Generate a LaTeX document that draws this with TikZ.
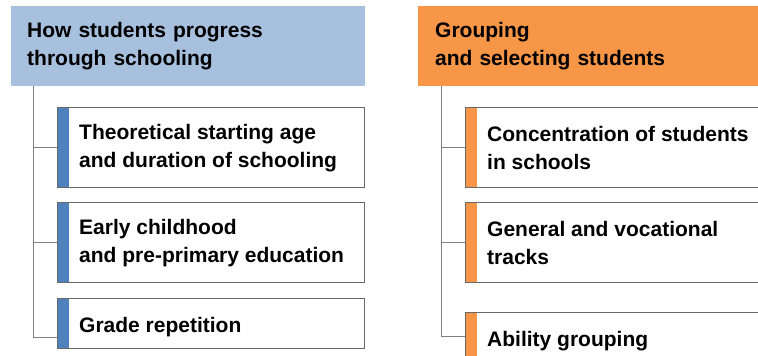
\documentclass[tikz,border=0pt]{standalone}
\usepackage{fontspec}
\setmainfont{Liberation Sans}
\usetikzlibrary{positioning}
\definecolor{headblue}{RGB}{167,192,222}
\definecolor{stripeblue}{RGB}{79,129,189}
\definecolor{headorange}{RGB}{247,150,70}
\definecolor{boxgray}{RGB}{105,105,105}
\definecolor{treegray}{RGB}{128,128,128}

\begin{document}
\begin{tikzpicture}[
    x=1pt, y=1pt,
    node distance=14pt,
    txt/.style={font=\fontsize{21}{27.5}\selectfont\bfseries, align=left},
    header/.style={txt, anchor=north west, fill=#1, minimum height=80pt,
                   text width=322pt, inner xsep=16pt, inner ysep=0pt},
    item/.style={draw=boxgray, line width=1pt, minimum width=307pt,
                 minimum height=80pt, inner sep=0pt,
                 path picture={\fill[#1] (path picture bounding box.south west)
                   rectangle ([xshift=11.5pt]path picture bounding box.north west);}},
    itemtext/.style={txt, anchor=west, inner sep=0pt},
    branch/.style={draw=treegray, line width=1pt},
]
\useasboundingbox (0,0) rectangle (758,356);
\clip (0,0) rectangle (758,356);

% ── Column A: how students progress ───────────────────────────────────
\node[header=headblue] (lhead) at (11,350)
      {How students progress\\through schooling};

\node[item=stripeblue, below right=21pt and 46pt of lhead.south west] (lb1) {};
\node[item=stripeblue, below=14pt of lb1] (lb2) {};
\node[item=stripeblue, below=15pt of lb2, minimum height=50pt] (lb3) {};

\node[itemtext] (lt1) at ([xshift=22pt]lb1.west)
      {Theoretical starting age\\and duration of schooling};
\node[itemtext] (lt2) at ([xshift=22pt]lb2.west)
      {Early childhood\\and pre-primary education};
\node[itemtext] (lt3) at ([xshift=22pt,yshift=-2.7pt]lb3.west)
      {Grade repetition};

% ── Column B: grouping and selecting ──────────────────────────────────
\node[header=headorange, text width=320pt, inner xsep=17pt] (rhead) at (418,350)
      {Grouping\\and selecting students};

\node[item=headorange, below right=21pt and 47pt of rhead.south west] (rb1) {};
\node[item=headorange, below=14pt of rb1] (rb2) {};
\node[item=headorange, below=29pt of rb2] (rb3) {};

\node[itemtext] (rt1) at ([xshift=22pt]rb1.west)
      {Concentration of students\\in schools};
\node[itemtext] (rt2) at ([xshift=22pt]rb2.west)
      {General and vocational\\tracks};
\node[itemtext] (rt3) at ([xshift=22pt,yshift=11.5pt]rb3.west)
      {Ability grouping};

% ── Tree lines ─────────────────────────────────────────────────────────
\coordinate (ltop) at ([xshift=22pt]lhead.south west);
\draw[branch] (ltop) |- ([yshift=-14pt]lb3.west);
\draw[branch] (ltop |- lb1.west) -- (lb1.west);
\draw[branch] (ltop |- lb2.west) -- (lb2.west);

\coordinate (rtop) at ([xshift=23pt]rhead.south west);
\draw[branch] (rtop) |- ([yshift=16pt]rb3.west);
\draw[branch] (rtop |- rb1.west) -- (rb1.west);
\draw[branch] (rtop |- rb2.west) -- (rb2.west);

\end{tikzpicture}
\end{document}
